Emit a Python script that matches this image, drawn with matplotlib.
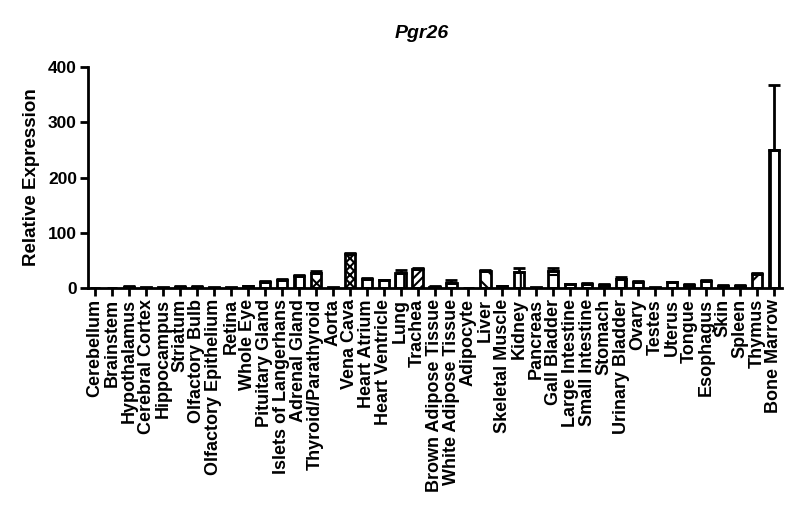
import matplotlib
matplotlib.use("Agg")
import matplotlib.pyplot as plt
import numpy as np

plt.rcParams['hatch.linewidth'] = 1.5
plt.rcParams['font.family'] = ['Liberation Sans', 'DejaVu Sans']

categories = ["Cerebellum", "Brainstem", "Hypothalamus", "Cerebral Cortex", "Hippocampus",
              "Striatum", "Olfactory Bulb", "Olfactory Epithelium", "Retina", "Whole Eye",
              "Pituitary Gland", "Islets of Langerhans", "Adrenal Gland", "Thyroid/Parathyroid",
              "Aorta", "Vena Cava", "Heart Atrium", "Heart Ventricle", "Lung", "Trachea",
              "Brown Adipose Tissue", "White Adipose Tissue", "Adipocyte", "Liver",
              "Skeletal Muscle", "Kidney", "Pancreas", "Gall Bladder", "Large Intestine",
              "Small Intestine", "Stomach", "Urinary Bladder", "Ovary", "Testes", "Uterus",
              "Tongue", "Esophagus", "Skin", "Spleen", "Thymus", "Bone Marrow"]
values = [0.5, 0.5, 2, 1, 1, 2, 2, 1, 1, 3,
          10, 14, 22, 28, 1, 62, 17, 14, 28, 34,
          2, 9, 0.5, 31, 3, 29, 1, 30, 7, 7,
          6, 17, 11, 1, 10, 6, 12, 4, 4, 25, 250]
errors = [0, 0, 1, 0, 0, 1, 1, 0, 0, 1,
          2, 3, 2, 2, 0, 2, 2, 1, 4, 2,
          1, 5, 0, 2, 1, 8, 0, 7, 1, 2,
          1, 3, 2, 0, 1, 1, 2, 1, 1, 2, 118]
hatches = ['', '', '', '', '', '', '', '', '', '',
           '-', '-', '||', 'x', '', 'xxxx', 'x', '-', '||', '////',
           '', '-', '', '\\\\', '', '||', '', '+', '-', '-',
           '-', '+', '-', '', '-', '-', '-', '', '', '//', '||']

fig = plt.figure(figsize=(8, 5.28), dpi=100)
ax = fig.add_axes([0.11, 0.4545, 0.868, 0.4185])
x = np.arange(len(categories))
for i in range(len(categories)):
    ax.bar(x[i], values[i], width=0.6, color='white', edgecolor='black',
           linewidth=2, hatch=hatches[i], zorder=2)
    if errors[i] > 0:
        ax.errorbar(x[i], values[i], yerr=[[0], [errors[i]]], fmt='none',
                    ecolor='black', elinewidth=2, capsize=4, capthick=2, zorder=3)

ax.set_xlim(-0.42, 40.5)
ax.set_ylim(0, 400)
ax.set_yticks([0, 100, 200, 300, 400])
ax.set_xticks(x)
ax.set_xticklabels(categories, rotation=90, fontsize=13, fontweight='bold')
for lab in ax.get_yticklabels():
    lab.set_fontweight('bold')
    lab.set_fontsize(12.5)
ax.spines['top'].set_visible(False)
ax.spines['right'].set_visible(False)
ax.spines['left'].set_linewidth(2)
ax.spines['bottom'].set_linewidth(2)
ax.tick_params(axis='both', width=2, length=6, direction='out', pad=2)
ax.set_ylabel('Relative Expression', fontsize=13.5, fontweight='bold', labelpad=6)
fig.text(0.527, 0.936, 'Pgr26', ha='center', va='center', fontsize=14,
         fontweight='bold', fontstyle='italic')
fig.savefig('out.png', dpi=100)
